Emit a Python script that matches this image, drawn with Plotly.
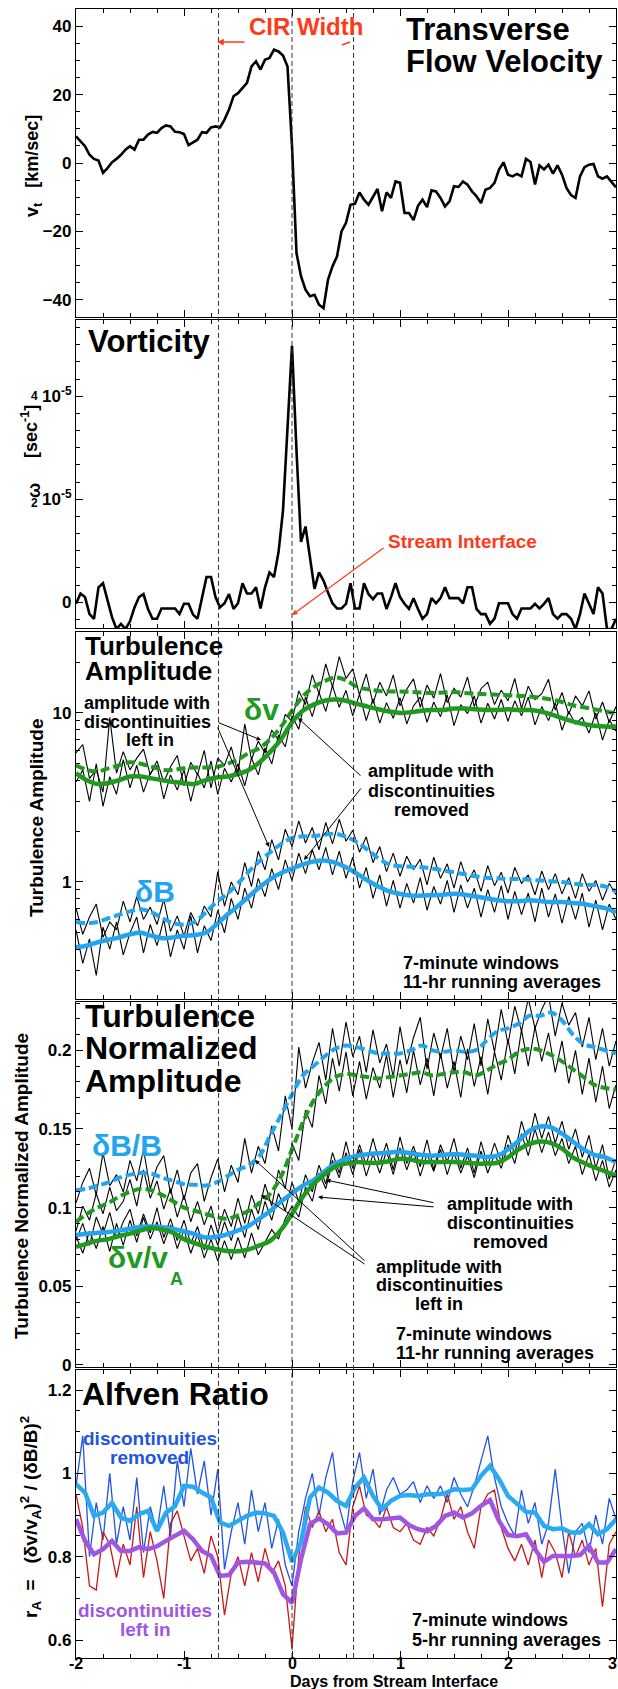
import numpy as np
import plotly.graph_objects as go
from plotly.subplots import make_subplots

# ---------------- data ----------------
# time grids, days from the stream interface
days_1h = np.arange(121) / 24.0 - 2.0
days_90m = np.arange(81) / 16.0 - 2.0
days_2h = np.arange(61) / 12.0 - 2.0
days_avg = np.round(np.arange(51) * 0.1 - 2.0, 2)
x_ticks = [-2, -1, 0, 1, 2, 3]

# CIR leading edge, stream interface, CIR trailing edge
cir_edges = [-0.68, 0.0, 0.57]

# transverse flow velocity [km/s], hourly
vt = [7.8, 6.3, 4.9, 2.4, 1.2, 0.7, -2.9, -1.5, 0.2, 1.2,
      2.4, 3.9, 4.9, 3.9, 6.8, 6.8, 8.3, 9.1, 8.8, 10.2,
      11.0, 10.7, 9.1, 9.0, 8.5, 5.2, 6.0, 6.8, 9.0, 8.8,
      10.4, 10.7, 10.4, 12.7, 15.6, 19.5, 20.4, 21.9, 23.4, 28.2,
      29.7, 27.3, 30.2, 30.7, 33.1, 32.6, 31.4, 28.2, 5.0, -26.3,
      -33.1, -37.0, -38.9, -38.5, -41.4, -42.4, -34.1, -30.2, -27.3, -20.0,
      -17.5, -12.2, -11.9, -8.6, -10.7, -12.2, -9.7, -7.6, -14.1, -8.6,
      -10.2, -5.4, -5.8, -14.6, -14.6, -16.7, -12.5, -10.7, -12.9, -8.0,
      -8.3, -10.2, -12.7, -11.2, -6.8, -7.0, -5.4, -6.3, -8.3, -9.7,
      -11.7, -7.8, -7.3, -5.8, -1.9, 0.2, -3.4, -3.9, -3.2, -3.9,
      1.2, 0.3, -6.3, -0.7, -1.9, -0.5, -3.1, -0.7, -3.4, -7.3,
      -9.4, -10.2, -3.9, -1.2, -0.5, -0.3, -3.9, -4.6, -3.9, -5.4, -7.1]

# vorticity in units of 1e-5, hourly
vort_e5 = [-0.03, 0.17, 0.10, -0.23, -0.32, 0.29, 0.37, 0.03, -0.29, -0.52,
           -0.42, -0.52, -0.37, -0.10, 0.10, 0.16, -0.13, -0.32, -0.32, -0.12,
           -0.12, -0.12, -0.12, -0.23, -0.03, -0.03, -0.24, -0.32, 0.06, 0.49,
           0.49, 0.10, -0.10, -0.02, 0.16, -0.13, -0.02, 0.37, 0.17, 0.17,
           0.29, -0.12, 0.29, 0.58, 0.49, 0.97, 1.78, 3.40, 4.98, 2.94,
           1.17, 1.47, 0.84, 0.26, 0.58, 0.42, 0.19, -0.02, -0.12, -0.12,
           -0.03, 0.37, -0.12, -0.12, 0.37, 0.16, 0.06, 0.17, 0.17, -0.13,
           0.10, 0.37, 0.10, -0.03, -0.13, 0.08, -0.13, -0.32, -0.23, 0.08,
           -0.02, 0.08, 0.29, 0.08, 0.08, 0.08, -0.02, 0.29, 0.29, -0.13,
           -0.23, -0.23, -0.42, -0.32, -0.02, -0.02, -0.02, -0.23, -0.32, -0.12,
           -0.12, -0.12, -0.03, -0.12, -0.03, 0.08, -0.23, -0.32, -0.23, -0.23,
           -0.32, -0.52, -0.23, 0.17, -0.03, -0.23, 0.29, 0.17, -0.52, -0.52, -0.32]

# turbulence amplitude, 7-minute windows (90-minute samples)
dv_in = [5.8, 6.5, 4.1, 4.6, 3.4, 9.4, 4.4, 5.9, 4.6, 5.4,
         6.1, 4.3, 5.2, 3.9, 4.8, 5.6, 3.7, 5.1, 4.3, 6.0,
         3.6, 5.4, 4.9, 6.3, 4.4, 8.6, 5.3, 6.8, 5.8, 7.9,
         6.9, 9.8, 8.9, 13.5, 11.2, 16.8, 13.0, 19.5, 14.2, 21.5,
         16.0, 18.2, 12.8, 17.0, 11.4, 15.2, 12.6, 16.8, 11.0, 13.8,
         15.9, 10.8, 14.6, 12.2, 17.1, 11.5, 14.0, 12.4, 16.3, 10.9,
         13.9, 15.2, 11.2, 13.6, 11.8, 16.0, 10.6, 14.4, 12.0, 13.0,
         15.8, 10.4, 13.2, 9.8, 12.6, 11.0, 13.5, 9.2, 11.6, 8.8, 10.9]
dv_rm = [3.9, 4.6, 3.0, 5.0, 2.8, 4.2, 3.3, 5.3, 3.6, 4.9,
         3.4, 4.4, 4.9, 3.1, 4.3, 3.5, 4.6, 3.0, 4.4, 3.6,
         5.2, 3.3, 4.7, 3.9, 5.0, 3.7, 5.4, 4.3, 6.2, 5.0,
         7.4, 6.3, 9.6, 8.0, 12.4, 9.5, 13.2, 10.2, 14.5, 10.8,
         13.6, 9.6, 12.9, 9.0, 12.1, 8.7, 11.5, 9.3, 12.3, 8.6,
         11.0, 12.4, 8.8, 11.6, 9.5, 12.8, 8.4, 11.2, 9.9, 12.6,
         8.7, 11.4, 9.2, 12.0, 8.9, 11.8, 9.6, 12.4, 8.5, 10.9,
         9.0, 11.5, 7.9, 10.2, 8.6, 9.4, 7.6, 10.0, 6.9, 9.1, 7.8]
db_in = [0.70, 0.49, 0.62, 0.74, 0.47, 0.58, 0.52, 0.77, 0.58, 0.82,
         0.60, 0.71, 0.56, 0.79, 0.51, 0.63, 0.48, 0.66, 0.55, 0.72,
         0.62, 1.15, 0.72, 1.00, 0.84, 1.30, 0.94, 1.52, 1.18, 1.78,
         1.35, 2.05, 1.62, 2.30, 1.70, 2.10, 1.55, 2.25, 1.68, 2.35,
         1.74, 2.02, 1.50, 1.85, 1.30, 1.62, 1.15, 1.48, 1.08, 1.42,
         1.18, 1.36, 0.96, 1.40, 1.05, 1.28, 0.92, 1.32, 1.00, 1.18,
         0.88, 1.25, 0.95, 1.14, 0.86, 1.22, 0.98, 1.10, 0.84, 1.16,
         0.90, 1.12, 0.85, 1.06, 0.80, 1.12, 0.88, 1.02, 0.78, 0.98, 0.84]
db_rm = [0.52, 0.33, 0.46, 0.28, 0.54, 0.40, 0.58, 0.37, 0.50, 0.62,
         0.38, 0.56, 0.42, 0.60, 0.36, 0.52, 0.40, 0.63, 0.38, 0.55,
         0.45, 0.68, 0.50, 0.80, 0.60, 0.92, 0.70, 1.05, 0.82, 1.20,
         0.90, 1.35, 1.02, 1.48, 1.12, 1.55, 1.18, 1.60, 1.10, 1.52,
         1.05, 1.40, 0.92, 1.22, 0.80, 1.10, 0.72, 1.02, 0.70, 0.98,
         0.75, 1.06, 0.68, 0.94, 0.74, 1.02, 0.66, 0.96, 0.70, 0.92,
         0.62, 0.90, 0.66, 0.95, 0.60, 0.88, 0.64, 0.86, 0.58, 0.92,
         0.62, 0.85, 0.57, 0.82, 0.60, 0.86, 0.54, 0.78, 0.52, 0.74, 0.60]

# turbulence amplitude, 11-hr running averages
dv_in_avg = [4.9, 4.6, 4.5, 4.7, 4.9, 5.1, 5.0, 4.8, 4.6, 4.6,
             4.7, 4.75, 4.75, 4.8, 5.0, 5.3, 5.8, 6.2, 7.0, 8.3,
             10.3, 12.5, 14.2, 15.4, 16.2, 15.6, 14.3, 13.8, 13.5, 13.4,
             13.4, 13.3, 13.2, 13.1, 13.2, 13.3, 13.1, 13.0, 12.9, 12.8,
             12.7, 12.6, 12.5, 12.3, 12.0, 11.6, 11.1, 10.8, 10.5, 10.2, 9.95]
dv_rm_avg = [4.4, 4.0, 3.8, 3.85, 4.0, 4.2, 4.2, 4.1, 4.0, 3.9,
             3.85, 3.8, 4.0, 4.15, 4.2, 4.35, 4.6, 5.1, 5.9, 7.0,
             8.8, 10.3, 11.2, 11.8, 12.0, 11.8, 11.3, 10.9, 10.5, 10.2,
             10.0, 10.1, 10.3, 10.4, 10.4, 10.6, 10.6, 10.5, 10.4, 10.4,
             10.5, 10.4, 10.4, 10.2, 9.8, 9.3, 8.9, 8.6, 8.4, 8.3, 8.3]
db_in_avg = [0.58, 0.57, 0.58, 0.61, 0.64, 0.67, 0.69, 0.66, 0.61, 0.57,
             0.56, 0.58, 0.66, 0.76, 0.85, 0.98, 1.15, 1.33, 1.50, 1.68,
             1.82, 1.86, 1.87, 1.90, 1.93, 1.85, 1.72, 1.55, 1.38, 1.27,
             1.24, 1.23, 1.22, 1.20, 1.17, 1.14, 1.11, 1.08, 1.06, 1.05,
             1.04, 1.04, 1.03, 1.02, 1.01, 1.00, 0.98, 0.96, 0.96, 0.94, 0.88]
db_rm_avg = [0.41, 0.42, 0.44, 0.455, 0.47, 0.49, 0.50, 0.48, 0.465, 0.47,
             0.48, 0.485, 0.50, 0.56, 0.64, 0.72, 0.82, 0.93, 1.04, 1.13,
             1.20, 1.27, 1.32, 1.34, 1.30, 1.22, 1.12, 1.02, 0.94, 0.88,
             0.85, 0.83, 0.83, 0.835, 0.84, 0.85, 0.84, 0.82, 0.80, 0.78,
             0.77, 0.77, 0.78, 0.77, 0.76, 0.76, 0.75, 0.74, 0.72, 0.70, 0.66]

# normalized amplitude, 7-minute windows (90-minute samples)
nb_in = [0.103, 0.116, 0.125, 0.108, 0.135, 0.114, 0.121, 0.110, 0.130, 0.117,
         0.137, 0.112, 0.126, 0.133, 0.109, 0.124, 0.105, 0.122, 0.128, 0.104,
         0.119, 0.131, 0.110, 0.127, 0.116, 0.144, 0.122, 0.139, 0.128, 0.152,
         0.136, 0.171, 0.150, 0.202, 0.176, 0.192, 0.205, 0.181, 0.214, 0.190,
         0.218, 0.196, 0.209, 0.186, 0.213, 0.192, 0.204, 0.183, 0.215, 0.191,
         0.208, 0.221, 0.188, 0.211, 0.195, 0.214, 0.186, 0.209, 0.194, 0.217,
         0.190, 0.220, 0.199, 0.226, 0.204, 0.228, 0.212, 0.233, 0.214, 0.226,
         0.235, 0.209, 0.230, 0.216, 0.224, 0.202, 0.221, 0.194, 0.214, 0.190, 0.206]
nv_in = [0.085, 0.101, 0.092, 0.109, 0.096, 0.113, 0.098, 0.104, 0.118, 0.101,
         0.124, 0.106, 0.117, 0.099, 0.112, 0.094, 0.108, 0.091, 0.104, 0.089,
         0.101, 0.084, 0.099, 0.088, 0.106, 0.090, 0.108, 0.096, 0.115, 0.101,
         0.124, 0.112, 0.141, 0.130, 0.162, 0.151, 0.184, 0.166, 0.195, 0.174,
         0.199, 0.171, 0.193, 0.169, 0.189, 0.176, 0.197, 0.170, 0.194, 0.173,
         0.200, 0.178, 0.195, 0.171, 0.198, 0.176, 0.193, 0.170, 0.201, 0.177,
         0.196, 0.172, 0.199, 0.181, 0.207, 0.185, 0.213, 0.190, 0.215, 0.193,
         0.211, 0.186, 0.206, 0.179, 0.200, 0.172, 0.195, 0.167, 0.190, 0.163, 0.178]
nb_rm = [0.079, 0.090, 0.076, 0.094, 0.083, 0.097, 0.080, 0.091, 0.099, 0.082,
         0.096, 0.084, 0.100, 0.081, 0.093, 0.079, 0.092, 0.077, 0.088, 0.073,
         0.089, 0.076, 0.091, 0.079, 0.095, 0.081, 0.099, 0.086, 0.104, 0.092,
         0.109, 0.098, 0.116, 0.104, 0.121, 0.110, 0.127, 0.115, 0.135, 0.122,
         0.142, 0.125, 0.140, 0.127, 0.144, 0.128, 0.141, 0.124, 0.145, 0.128,
         0.139, 0.126, 0.143, 0.124, 0.140, 0.129, 0.144, 0.125, 0.138, 0.122,
         0.142, 0.127, 0.141, 0.129, 0.146, 0.134, 0.155, 0.140, 0.160, 0.144,
         0.158, 0.141, 0.155, 0.137, 0.150, 0.132, 0.146, 0.125, 0.140, 0.118, 0.131]
nv_rm = [0.082, 0.071, 0.085, 0.074, 0.088, 0.072, 0.090, 0.076, 0.092, 0.078,
         0.094, 0.080, 0.091, 0.077, 0.089, 0.074, 0.086, 0.071, 0.083, 0.068,
         0.080, 0.066, 0.079, 0.067, 0.081, 0.068, 0.084, 0.070, 0.078, 0.086,
         0.080, 0.093, 0.101, 0.094, 0.113, 0.104, 0.122, 0.112, 0.130, 0.119,
         0.135, 0.121, 0.137, 0.120, 0.134, 0.122, 0.136, 0.121, 0.138, 0.124,
         0.136, 0.120, 0.134, 0.123, 0.137, 0.121, 0.135, 0.122, 0.133, 0.119,
         0.136, 0.122, 0.134, 0.125, 0.140, 0.128, 0.147, 0.133, 0.150, 0.135,
         0.148, 0.133, 0.144, 0.128, 0.139, 0.121, 0.134, 0.117, 0.130, 0.113, 0.124]

# normalized amplitude, 11-hr running averages
nb_in_avg = [0.111, 0.112, 0.114, 0.116, 0.119, 0.121, 0.122, 0.1215, 0.119, 0.117,
             0.115, 0.1145, 0.114, 0.116, 0.120, 0.124, 0.127, 0.133, 0.146, 0.159,
             0.172, 0.184, 0.190, 0.196, 0.201, 0.203, 0.202, 0.200, 0.198, 0.198,
             0.198, 0.200, 0.203, 0.200, 0.199, 0.200, 0.199, 0.200, 0.206, 0.212,
             0.214, 0.217, 0.222, 0.222, 0.224, 0.219, 0.210, 0.204, 0.202, 0.200, 0.198]
nv_in_avg = [0.091, 0.096, 0.100, 0.103, 0.107, 0.110, 0.112, 0.111, 0.108, 0.104,
             0.100, 0.098, 0.096, 0.094, 0.093, 0.095, 0.098, 0.103, 0.109, 0.120,
             0.137, 0.154, 0.168, 0.177, 0.183, 0.185, 0.184, 0.183, 0.182, 0.183,
             0.184, 0.185, 0.186, 0.184, 0.185, 0.186, 0.186, 0.184, 0.187, 0.191,
             0.194, 0.199, 0.201, 0.200, 0.197, 0.193, 0.188, 0.183, 0.178, 0.176, 0.175]
nb_rm_avg = [0.0826, 0.0834, 0.0840, 0.0845, 0.0855, 0.0866, 0.0878, 0.0880, 0.0875, 0.0865,
             0.0850, 0.0832, 0.0810, 0.0815, 0.0830, 0.0855, 0.0885, 0.0930, 0.0980, 0.1040,
             0.1090, 0.1140, 0.1175, 0.1230, 0.1280, 0.1310, 0.1330, 0.1340, 0.1345, 0.1350,
             0.1355, 0.1345, 0.1335, 0.1330, 0.1335, 0.1340, 0.1335, 0.1330, 0.1322, 0.1330,
             0.1370, 0.1425, 0.1490, 0.1515, 0.1510, 0.1470, 0.1420, 0.1370, 0.1335, 0.1320, 0.1290]
nv_rm_avg = [0.075, 0.077, 0.079, 0.080, 0.082, 0.0835, 0.0855, 0.0870, 0.0860, 0.0840,
             0.0800, 0.0775, 0.0752, 0.0735, 0.0725, 0.0722, 0.0735, 0.0760, 0.0790, 0.0860,
             0.0960, 0.1070, 0.1150, 0.1210, 0.1260, 0.1280, 0.1290, 0.1285, 0.1285, 0.1295,
             0.1310, 0.1305, 0.1290, 0.1290, 0.1290, 0.1290, 0.1285, 0.1280, 0.1280, 0.1285,
             0.1320, 0.1370, 0.1405, 0.1420, 0.1410, 0.1375, 0.1320, 0.1285, 0.1255, 0.1230, 0.1200]

# Alfven ratio, 7-minute windows (90-minute samples)
ra_rm = [0.97, 1.09, 0.80, 0.93, 0.84, 1.00, 0.83, 0.92, 0.84, 0.99,
         0.81, 0.92, 0.86, 0.97, 0.85, 1.03, 0.92, 1.06, 0.95, 1.03,
         0.90, 1.01, 0.77, 0.86, 0.93, 0.83, 0.96, 0.86, 0.93, 0.82,
         0.89, 0.78, 0.73, 0.86, 0.94, 1.00, 0.90, 0.99, 1.05, 0.92,
         0.86, 0.98, 1.05, 0.94, 1.01, 0.90, 0.96, 0.99, 0.95, 0.96,
         0.98, 0.93, 0.97, 0.94, 0.97, 0.93, 0.99, 0.95, 0.92, 0.97,
         1.03, 1.09, 0.99, 0.92, 0.88, 0.85, 0.96, 0.88, 0.93, 0.83,
         0.88, 1.01, 0.87, 0.76, 0.86, 0.88, 0.81, 0.90, 0.83, 0.94, 0.89]
ra_in = [0.95, 0.87, 0.73, 0.72, 0.86, 0.83, 0.75, 0.83, 0.78, 0.92,
         0.75, 0.86, 0.79, 0.70, 0.88, 0.91, 0.85, 0.79, 0.82, 0.76,
         0.85, 0.80, 0.66, 0.76, 0.80, 0.73, 0.81, 0.74, 0.82, 0.76,
         0.79, 0.73, 0.58, 0.80, 0.92, 0.87, 0.91, 0.86, 0.89, 0.81,
         0.78, 0.92, 0.97, 0.90, 0.89, 0.87, 0.92, 0.87, 0.86, 0.88,
         0.84, 0.83, 0.87, 0.85, 0.89, 0.95, 0.89, 0.92, 0.86, 0.82,
         0.92, 0.95, 0.96, 0.87, 0.82, 0.79, 0.83, 0.78, 0.84, 0.75,
         0.84, 0.81, 0.75, 0.86, 0.80, 0.84, 0.78, 0.82, 0.68, 0.83, 0.86]

# Alfven ratio, 5-hr running averages (2-hourly samples)
ra_rm_avg = [0.974, 0.954, 0.898, 0.906, 0.929, 0.894, 0.886, 0.902, 0.910, 0.862,
             0.906, 0.921, 0.970, 0.968, 0.954, 0.942, 0.882, 0.874, 0.886, 0.898,
             0.906, 0.904, 0.898, 0.858, 0.788, 0.834, 0.942, 0.966, 0.954, 0.934,
             0.922, 0.966, 0.990, 0.946, 0.914, 0.934, 0.946, 0.948, 0.946, 0.950,
             0.950, 0.952, 0.962, 0.960, 0.962, 0.994, 1.018, 0.986, 0.946, 0.926,
             0.908, 0.906, 0.874, 0.866, 0.868, 0.858, 0.858, 0.878, 0.854, 0.866, 0.890]
ra_in_avg = [0.890, 0.838, 0.806, 0.818, 0.838, 0.814, 0.814, 0.823, 0.818, 0.825,
             0.838, 0.850, 0.862, 0.842, 0.814, 0.802, 0.754, 0.756, 0.786, 0.788,
             0.785, 0.784, 0.762, 0.710, 0.689, 0.794, 0.878, 0.892, 0.878, 0.856,
             0.858, 0.898, 0.916, 0.890, 0.890, 0.893, 0.894, 0.876, 0.866, 0.861,
             0.874, 0.898, 0.906, 0.894, 0.904, 0.922, 0.936, 0.886, 0.852, 0.849,
             0.854, 0.818, 0.788, 0.802, 0.801, 0.802, 0.804, 0.826, 0.786, 0.786, 0.818]

# ---------------- styling ----------------
W, H = 618, 1689
ML, MR, MT, MB = 76, 2, 9, 31
PW, PH = W - ML - MR, H - MT - MB
FONT = "Liberation Sans, Arial, Helvetica, sans-serif"

GREEN = "#1f9a1f"
LBLUE = "#22a4ef"
BLUE = "#1f55e0"
PURPLE = "#a056e0"
RED = "#c81818"
ORANGE_RED = "#ff3a1a"


def xp(px):
    return (px - ML) / PW


def yp(py):
    return (H - MB - py) / PH


# panel extents in pixels (top, bottom)
panel_px = [(9, 317), (320, 628), (632, 999), (1002, 1367), (1370, 1658)]

fig = make_subplots(rows=5, cols=1, shared_xaxes=True, vertical_spacing=0.01)

# panel 1: transverse flow velocity
fig.add_trace(go.Scatter(x=days_1h, y=vt, mode="lines",
                         line=dict(color="black", width=2.6)), row=1, col=1)

# panel 2: vorticity
fig.add_trace(go.Scatter(x=days_1h, y=vort_e5, mode="lines",
                         line=dict(color="black", width=2.6)), row=2, col=1)

# panel 3: turbulence amplitude
for ser in (dv_in, dv_rm, db_in, db_rm):
    fig.add_trace(go.Scatter(x=days_90m, y=ser, mode="lines",
                             line=dict(color="black", width=1.1)), row=3, col=1)
fig.add_trace(go.Scatter(x=days_avg, y=dv_in_avg, mode="lines",
                         line=dict(color=GREEN, width=4, dash="9px,4px", shape="spline")), row=3, col=1)
fig.add_trace(go.Scatter(x=days_avg, y=dv_rm_avg, mode="lines",
                         line=dict(color=GREEN, width=4.5, shape="spline")), row=3, col=1)
fig.add_trace(go.Scatter(x=days_avg, y=db_in_avg, mode="lines",
                         line=dict(color=LBLUE, width=4, dash="9px,4px", shape="spline")), row=3, col=1)
fig.add_trace(go.Scatter(x=days_avg, y=db_rm_avg, mode="lines",
                         line=dict(color=LBLUE, width=4.5, shape="spline")), row=3, col=1)

# panel 4: normalized amplitude
for ser in (nb_in, nv_in, nb_rm, nv_rm):
    fig.add_trace(go.Scatter(x=days_90m, y=ser, mode="lines",
                             line=dict(color="black", width=1.1)), row=4, col=1)
fig.add_trace(go.Scatter(x=days_avg, y=nb_in_avg, mode="lines",
                         line=dict(color=LBLUE, width=4, dash="9px,4px", shape="spline")), row=4, col=1)
fig.add_trace(go.Scatter(x=days_avg, y=nv_in_avg, mode="lines",
                         line=dict(color=GREEN, width=4, dash="9px,4px", shape="spline")), row=4, col=1)
fig.add_trace(go.Scatter(x=days_avg, y=nb_rm_avg, mode="lines",
                         line=dict(color=LBLUE, width=4.5, shape="spline")), row=4, col=1)
fig.add_trace(go.Scatter(x=days_avg, y=nv_rm_avg, mode="lines",
                         line=dict(color=GREEN, width=4.5, shape="spline")), row=4, col=1)

# panel 5: Alfven ratio
fig.add_trace(go.Scatter(x=days_90m, y=ra_rm, mode="lines",
                         line=dict(color=BLUE, width=1.3)), row=5, col=1)
fig.add_trace(go.Scatter(x=days_90m, y=ra_in, mode="lines",
                         line=dict(color=RED, width=1.3)), row=5, col=1)
fig.add_trace(go.Scatter(x=days_2h, y=ra_rm_avg, mode="lines",
                         line=dict(color="#2aaaf0", width=4.5)), row=5, col=1)
fig.add_trace(go.Scatter(x=days_2h, y=ra_in_avg, mode="lines",
                         line=dict(color=PURPLE, width=4.5)), row=5, col=1)

# ---------------- axes ----------------
tickfont = dict(family=FONT, size=17, color="black", weight="bold")
axis_common = dict(showline=True, linewidth=1.2, linecolor="black", mirror="ticks",
                   ticks="inside", ticklen=7, tickwidth=1, tickcolor="black",
                   showgrid=False, zeroline=False, tickfont=tickfont)

fig.update_xaxes(range=[-2, 3], tickmode="array", tickvals=x_ticks, showticklabels=False,
                 minor=dict(ticks="inside", ticklen=4, tickcolor="black", tick0=0, dtick=0.25),
                 **axis_common)

minor_log = [v * m for m in (0.1, 1, 10) for v in range(2, 10)]
fig.update_yaxes(row=1, col=1, range=[-45, 45], tickvals=[-40, -20, 0, 20, 40],
                 minor=dict(ticks="inside", ticklen=4, tickcolor="black", tick0=0, dtick=5),
                 **axis_common)
fig.update_yaxes(row=2, col=1, range=[-0.5, 5.48], tickvals=[0, 2, 4],
                 ticktext=["0", "10<sup>-5</sup>", "10<sup>-5</sup>"],
                 minor=dict(ticks="inside", ticklen=4, tickcolor="black",
                            tickvals=[k / 3 for k in range(-1, 17)]),
                 **axis_common)
fig.update_yaxes(row=3, col=1, type="log", range=[np.log10(0.203), np.log10(30.1)],
                 tickvals=[1, 10], ticktext=["1", "10"],
                 minor=dict(ticks="inside", ticklen=4, tickcolor="black", tickvals=minor_log),
                 **axis_common)
fig.update_yaxes(row=4, col=1, range=[-0.0013, 0.2307], tickvals=[0, 0.05, 0.1, 0.15, 0.2],
                 ticktext=["0", "0.05", "0.1", "0.15", "0.2"],
                 minor=dict(ticks="inside", ticklen=4, tickcolor="black", tick0=0, dtick=0.01),
                 **axis_common)
fig.update_yaxes(row=5, col=1, range=[0.557, 1.248], tickvals=[0.6, 0.8, 1.0, 1.2],
                 ticktext=["0.6", "0.8", "1", "1.2"],
                 minor=dict(ticks="inside", ticklen=4, tickcolor="black", tick0=0, dtick=0.05),
                 **axis_common)

domains = {}
for i, (top, bot) in enumerate(panel_px):
    key = "yaxis" if i == 0 else f"yaxis{i + 1}"
    domains[key] = dict(domain=[yp(bot), yp(top)])
fig.update_layout(**domains)

# CIR boundaries and stream interface
for xe in cir_edges:
    fig.add_shape(type="line", xref="x", yref="paper", x0=xe, x1=xe, y0=0, y1=1,
                  line=dict(color="#333333", width=1, dash="5px,3px"), layer="above")


# ---------------- text ----------------
def label(text, x, y, size, color="black", anchor="left", angle=0):
    fig.add_annotation(text=text, x=xp(x), y=yp(y), xref="paper", yref="paper",
                       xanchor=anchor, yanchor="middle", showarrow=False, textangle=angle,
                       borderpad=0,
                       font=dict(family=FONT, size=size, color=color, weight="bold"))


def arrow(head, tail, color="black", width=1.0):
    fig.add_annotation(text="", x=xp(head[0]), y=yp(head[1]), xref="paper", yref="paper",
                       ax=tail[0] - head[0], ay=tail[1] - head[1], axref="pixel", ayref="pixel",
                       showarrow=True, arrowhead=2, arrowsize=0.9, arrowwidth=width,
                       arrowcolor=color, standoff=0, startstandoff=0)


# bottom tick labels (the last one kept inside the page edge)
for v in x_ticks:
    last = v == x_ticks[-1]
    fig.add_annotation(text=f"{v}", x=xp(618) if last else v, y=yp(1663),
                       xref="paper" if last else "x5", yref="paper",
                       xanchor="right" if last else "center", yanchor="middle",
                       showarrow=False, borderpad=0,
                       font=dict(family=FONT, size=16, color="black", weight="bold"))

# panel 1
label("Transverse", 405, 30, 31)
label("Flow Velocity", 405, 62, 31)
label("CIR Width", 248, 27, 24, ORANGE_RED)
arrow((217, 42), (246, 42), ORANGE_RED, 1.5)
fig.add_shape(type="line", xref="paper", yref="paper", x0=xp(342), y0=yp(45), x1=xp(350), y1=yp(42),
              line=dict(color=ORANGE_RED, width=1.5))
label("v<sub>t</sub>   [km/sec]", 33, 166, 18, angle=-90, anchor="center")

# panel 2
label("Vorticity", 87, 342, 31)
label("Stream Interface", 387, 542, 19, ORANGE_RED)
arrow((292, 615), (385, 547), ORANGE_RED, 1.2)
label("[sec<sup>-1</sup>]", 30, 432, 18, angle=-90, anchor="center")
label("ω", 34, 491, 18, angle=-90, anchor="center")
label("4", 30, 396, 12)
label("2", 30, 503, 12)

# panel 3
label("Turbulence", 84, 646, 26)
label("Amplitude", 84, 671, 26)
label("amplitude with", 83, 703, 18)
label("discontinuities", 83, 722, 18)
label("left in", 150, 740, 18, anchor="center")
label("δv", 243, 709, 30, GREEN)
label("amplitude with", 431, 771, 18, anchor="center")
label("discontinuities", 431, 791, 18, anchor="center")
label("removed", 431, 810, 18, anchor="center")
label("δB", 134, 891, 30, LBLUE)
label("7-minute windows", 402, 963, 18)
label("11-hr running averages", 402, 982, 18)
arrow((261, 740), (217, 722))
arrow((269, 847), (217, 726))
arrow((298, 718), (362, 777))
arrow((304, 860), (362, 787))
label("Turbulence Amplitude", 36, 818, 19, angle=-90, anchor="center")

# panel 4
label("Turbulence", 84, 1016, 32)
label("Normalized", 84, 1048, 32)
label("Amplitude", 84, 1081, 32)
label("δB/B", 91, 1145, 30, LBLUE)
label("δv/v", 107, 1257, 30, GREEN)
label("A", 169, 1279, 18, GREEN)
label("amplitude with", 510, 1204, 18, anchor="center")
label("discontinuities", 510, 1223, 18, anchor="center")
label("removed", 510, 1242, 18, anchor="center")
label("amplitude with", 439, 1267, 18, anchor="center")
label("discontinuities", 439, 1285, 18, anchor="center")
label("left in", 439, 1304, 18, anchor="center")
label("7-minute windows", 395, 1334, 18)
label("11-hr running averages", 395, 1353, 18)
arrow((326, 1180), (435, 1203))
arrow((318, 1197), (435, 1207))
arrow((255, 1160), (366, 1262))
arrow((261, 1195), (366, 1265))
label("Turbulence Normalized Amplitude", 21, 1186, 19, angle=-90, anchor="center")

# panel 5
label("Alfven Ratio", 81, 1394, 32)
label("discontinuities", 82, 1438, 19, BLUE)
label("removed", 109, 1457, 19, BLUE)
label("discontinuities", 77, 1610, 19, PURPLE)
label("left in", 119, 1629, 19, PURPLE)
label("7-minute windows", 411, 1620, 18)
label("5-hr running averages", 411, 1640, 18)
label("r<sub>A</sub>  =   (δv/v<sub>A</sub>)<sup>2</sup> / (δB/B)<sup>2</sup>", 30, 1517, 19,
      angle=-90, anchor="center")

# x axis title
label("Days from Stream Interface", 394, 1681, 16, anchor="center")

fig.update_layout(width=W, height=H, margin=dict(l=ML, r=MR, t=MT, b=MB),
                  paper_bgcolor="white", plot_bgcolor="white", showlegend=False,
                  font=dict(family=FONT, color="black"))

fig.write_html("out.html")
